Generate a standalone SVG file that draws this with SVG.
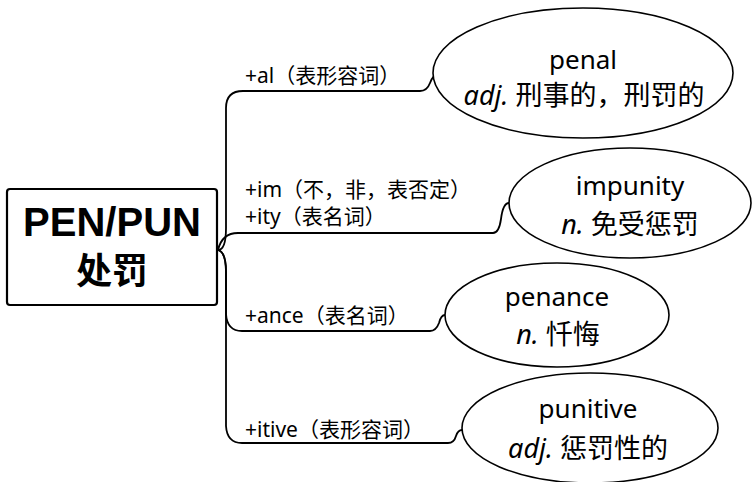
<svg xmlns="http://www.w3.org/2000/svg" width="752" height="482" viewBox="0 0 752 482">
<style>
.bg{fill:#fff}
.edge{fill:none;stroke:#000;stroke-width:1.8;stroke-linecap:round;stroke-linejoin:round}
.ell{fill:#fff;stroke:#000;stroke-width:1.6}
.root{fill:#fff;stroke:#000;stroke-width:2.2}
.rt{font-family:"Liberation Sans","Noto Sans CJK SC",sans-serif;font-weight:bold;font-size:40px;text-anchor:middle;fill:#000}
.rc{font-family:"Noto Sans CJK SC",sans-serif;font-weight:bold;font-size:36px;text-anchor:middle;fill:#000}
.lbl{font-family:"Noto Sans","Noto Sans CJK SC",sans-serif;font-size:21px;fill:#000}
.w{font-family:"Noto Sans","Noto Sans CJK SC",sans-serif;font-size:26px;text-anchor:middle;fill:#000}
.d{font-family:"Noto Sans","Noto Sans CJK SC",sans-serif;font-size:27px;text-anchor:middle;fill:#000}
.it{font-style:italic}
</style>
<rect class="bg" x="0" y="0" width="752" height="482"/>
<g id="connectors">
<path class="edge" d="M218,250 Q226,250 226,228 L226,108 Q226,91 243,91 L420,91 Q427,91 430,83 Q433,75 437,75"/>
<path class="edge" d="M218,250 Q222,233 238,233 L493,233 Q499,233 501,219 Q503,203 509,203"/>
<path class="edge" d="M218,250 Q226,252 226,272 L226,314 Q227,331 242,331 L430,331 Q436,331 439,323 Q441,315 445,315"/>
<path class="edge" d="M218,250 Q226,252 226,272 L226,426 Q227,443 242,443 L448,443 Q454,443 456,436 Q458,430 462,430"/>
</g>
<g id="labels">
<text class="lbl" x="245" y="83">+al（表形容词）</text>
<text class="lbl" x="245" y="197">+im（不，非，表否定）</text>
<text class="lbl" x="245" y="224">+ity（表名词）</text>
<text class="lbl" x="245" y="323">+ance（表名词）</text>
<text class="lbl" x="245" y="437">+itive（表形容词）</text>
</g>
<g id="root">
<rect class="root" x="7" y="189" width="210" height="116" rx="3"/>
<text class="rt" x="112" y="236">PEN/PUN</text>
<text class="rc" x="112" y="284">处罚</text>
</g>
<g id="penal">
<ellipse class="ell" cx="583" cy="73" rx="150" ry="65"/>
<text class="w" x="583" y="69">penal</text>
<text class="d" x="584" y="105"><tspan class="it">adj.</tspan> 刑事的，刑罚的</text>
</g>
<g id="impunity">
<ellipse class="ell" cx="630" cy="203" rx="121" ry="55"/>
<text class="w" x="630" y="195">impunity</text>
<text class="d" x="630" y="234"><tspan class="it">n.</tspan> 免受惩罚</text>
</g>
<g id="penance">
<ellipse class="ell" cx="557" cy="315" rx="112" ry="52"/>
<text class="w" x="557" y="306">penance</text>
<text class="d" x="558" y="344"><tspan class="it">n.</tspan> 忏悔</text>
</g>
<g id="punitive">
<ellipse class="ell" cx="590" cy="428" rx="128" ry="55"/>
<text class="w" x="588" y="418">punitive</text>
<text class="d" x="588" y="458"><tspan class="it">adj.</tspan> 惩罚性的</text>
</g>
</svg>
